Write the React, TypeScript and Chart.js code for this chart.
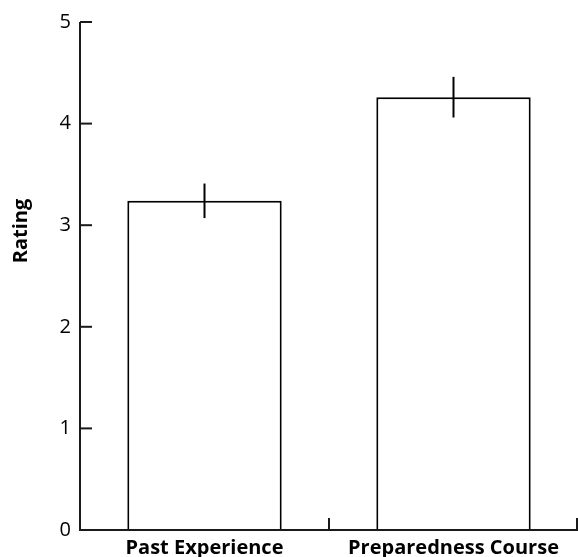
import React, { useEffect, useRef } from "react";
import { Chart, registerables } from "chart.js";

Chart.register(...registerables);

const categories = ["Past Experience", "Preparedness Course"];
const ratings = [3.24, 4.26];
const errors = [0.17, 0.2];
const yTicks = [0, 1, 2, 3, 4, 5];
const yTitle = "Rating";

const customAxes = {
  id: "customAxes",
  afterDraw(chart: any) {
    const ctx = chart.ctx;
    const x = chart.scales.x;
    const y = chart.scales.y;
    const area = chart.chartArea;
    ctx.save();
    ctx.strokeStyle = "#1a1a1a";
    ctx.lineWidth = 2;
    // y axis
    ctx.beginPath();
    ctx.moveTo(area.left, area.top);
    ctx.lineTo(area.left, area.bottom + 1);
    ctx.stroke();
    // x axis
    ctx.beginPath();
    ctx.moveTo(area.left - 1, area.bottom);
    ctx.lineTo(area.right, area.bottom);
    ctx.stroke();
    // y ticks (inward)
    yTicks.forEach((v) => {
      const py = y.getPixelForValue(v);
      ctx.beginPath();
      ctx.moveTo(area.left, py);
      ctx.lineTo(area.left + 12, py);
      ctx.stroke();
    });
    // x ticks at category boundaries (inward)
    for (let i = 1; i <= categories.length; i++) {
      const px = x.getPixelForValue(i - 0.5);
      const pxc = Math.min(px, area.right - 1);
      ctx.beginPath();
      ctx.moveTo(pxc, area.bottom);
      ctx.lineTo(pxc, area.bottom - 12);
      ctx.stroke();
    }
    // error bars
    ctx.strokeStyle = "#000";
    ratings.forEach((v, i) => {
      const px = x.getPixelForValue(i);
      ctx.beginPath();
      ctx.moveTo(px, y.getPixelForValue(v + errors[i]));
      ctx.lineTo(px, y.getPixelForValue(v - errors[i]));
      ctx.stroke();
    });
    // y title
    ctx.fillStyle = "#000";
    ctx.font = 'bold 20px "Open Sans", sans-serif';
    ctx.textAlign = "center";
    ctx.textBaseline = "middle";
    ctx.translate(21, 231);
    ctx.rotate(-Math.PI / 2);
    ctx.fillText(yTitle, 0, 0);
    ctx.restore();
  },
};

export default function App() {
  const ref = useRef<HTMLCanvasElement>(null);
  useEffect(() => {
    if (!ref.current) return;
    const chart = new Chart(ref.current, {
      type: "bar",
      data: {
        labels: categories,
        datasets: [
          {
            data: ratings,
            backgroundColor: "#ffffff",
            borderColor: "#000000",
            borderWidth: 2,
            barPercentage: 0.62,
            categoryPercentage: 1,
          },
        ],
      },
      options: {
        responsive: false,
        animation: false,
        layout: { padding: { top: 22, right: 0, left: 0, bottom: 0 } },
        plugins: { legend: { display: false }, tooltip: { enabled: false } },
        scales: {
          x: {
            offset: true,
            grid: { display: false, drawTicks: false },
            border: { display: false },
            ticks: {
              color: "#000",
              font: { family: "'Open Sans'", size: 20, weight: "bold" },
              padding: 6,
              maxRotation: 0,
              autoSkip: false,
            },
            afterFit(scale: any) {
              scale.height = 27;
            },
          },
          y: {
            min: 0,
            max: 5,
            grid: { display: false, drawTicks: false },
            border: { display: false },
            ticks: {
              stepSize: 1,
              color: "#000",
              font: { family: "'Open Sans'", size: 20 },
              padding: 9,
            },
            afterFit(scale: any) {
              scale.width = 80;
            },
          },
        },
      },
      plugins: [customAxes],
    });
    return () => chart.destroy();
  }, []);
  return (
    <div style={{ position: "fixed", left: 0, top: 0, width: 578, height: 557, background: "#fff" }}>
      <canvas ref={ref} width={578} height={557} />
    </div>
  );
}
